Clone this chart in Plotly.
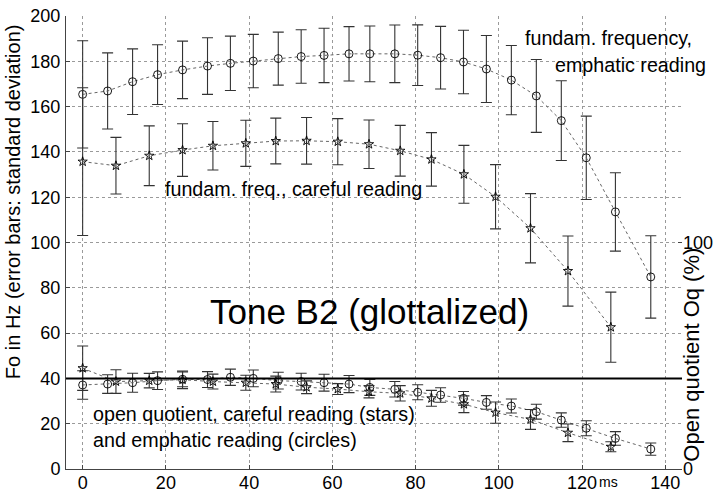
import plotly.graph_objects as go

# ---- data ----
emph_x = [0, 6, 12, 18, 24, 30, 35.5, 41, 47, 52.5, 58, 64, 69, 75, 80.5, 86, 91.5, 97, 103, 109, 115, 121, 128, 136.5]
emph_f0 = [165.4, 166.9, 171.0, 174.1, 176.2, 177.9, 179.1, 180.1, 181.2, 182.1, 182.6, 183.3, 183.3, 183.3, 182.7, 181.6, 179.7, 176.6, 171.7, 164.7, 153.8, 137.4, 113.5, 84.8]
emph_f0_sd = [23.7, 16.8, 14.5, 13.2, 12.7, 12.5, 12.0, 11.8, 11.7, 11.8, 12.0, 12.0, 12.3, 12.7, 13.4, 13.8, 14.0, 14.8, 15.3, 16.1, 17.6, 18.4, 17.3, 18.2]
emph_oq = [37.1, 37.5, 38.1, 39.0, 39.6, 39.5, 40.5, 40.0, 39.0, 38.6, 38.1, 37.5, 36.0, 35.2, 33.9, 32.7, 31.2, 29.4, 27.8, 25.3, 21.6, 18.0, 13.5, 8.8]
emph_oq_sd = [6.3, 4.1, 4.2, 3.9, 3.3, 3.5, 3.6, 3.7, 3.7, 3.7, 3.7, 3.8, 3.5, 3.4, 3.3, 3.2, 3.0, 3.0, 3.1, 3.3, 3.2, 3.3, 3.0, 2.7]

care_x = [0, 8, 16, 24, 31.3, 39.2, 46.4, 53.8, 61.3, 68.8, 76.3, 83.8, 91.6, 99.2, 107.6, 116.6, 126.9]
care_f0 = [135.7, 133.9, 138.3, 140.8, 142.7, 143.8, 144.8, 144.9, 144.5, 143.4, 140.5, 136.7, 130.1, 120.2, 106.3, 87.4, 62.6]
care_f0_sd = [32.6, 12.5, 13.2, 11.6, 10.7, 10.2, 10.1, 10.3, 10.2, 10.7, 11.2, 11.8, 12.8, 14.2, 15.3, 15.5, 15.5]
care_oq = [44.5, 38.6, 39.0, 39.4, 38.6, 38.1, 37.5, 36.1, 35.3, 34.1, 33.4, 31.2, 28.6, 24.9, 21.9, 16.0, 9.8]
care_oq_sd = [9.8, 5.2, 3.2, 3.9, 3.3, 3.3, 3.5, 2.8, 2.4, 2.7, 3.4, 3.5, 3.7, 4.7, 4.4, 3.9, 2.2]

x_ticks = [0, 20, 40, 60, 80, 100, 120, 140]
y_ticks = [0, 20, 40, 60, 80, 100, 120, 140, 160, 180, 200]
y2_ticks = [0, 100]
ref_level = 40

FONT = "Liberation Sans, Arial, sans-serif"
ERR = dict(type="data", visible=True, color="#333333", thickness=1.1, width=5.5)
LINE = dict(color="#666666", dash="dot", width=1)

fig = go.Figure()

def add(x, y, sd, symbol, size, axis):
    fig.add_trace(go.Scatter(
        x=x, y=y, yaxis=axis, mode="lines+markers",
        line=LINE,
        marker=dict(symbol=symbol, size=size, color="black", line=dict(width=0.9, color="black")),
        error_y=dict(array=sd, **ERR),
        showlegend=False, cliponaxis=False))

add(emph_x, emph_f0, emph_f0_sd, "circle-open", 8, "y")
add(care_x, care_f0, care_f0_sd, "star-open", 7, "y")
add(emph_x, emph_oq, emph_oq_sd, "circle-open", 8, "y2")
add(care_x, care_oq, care_oq_sd, "star-open", 7, "y2")

fig.add_shape(type="line", xref="paper", x0=0, x1=1, yref="y", y0=ref_level, y1=ref_level,
              line=dict(color="black", width=2))

ann_font = dict(family=FONT, size=19.7, color="black")
fig.add_annotation(x=68.9, y=69.5, text="Tone B2 (glottalized)", showarrow=False,
                   font=dict(family=FONT, size=35, color="black"), xanchor="center", yanchor="middle")
fig.add_annotation(x=105.9, y=190.5, text="fundam. frequency,", showarrow=False,
                   font=ann_font, xanchor="left", yanchor="middle")
fig.add_annotation(x=112.9, y=178.3, text="emphatic reading", showarrow=False,
                   font=ann_font, xanchor="left", yanchor="middle")
fig.add_annotation(x=19.2, y=123.5, text="fundam. freq., careful reading", showarrow=False,
                   font=ann_font, xanchor="left", yanchor="middle")
fig.add_annotation(x=2.1, y=24.5, text="open quotient, careful reading (stars)", showarrow=False,
                   font=ann_font, xanchor="left", yanchor="middle")
fig.add_annotation(x=2.1, y=13.0, text="and emphatic reading (circles)", showarrow=False,
                   font=ann_font, xanchor="left", yanchor="middle")
# unit next to the 120 tick label
fig.add_annotation(x=120, y=0, yref="y", text="ms", showarrow=False, xanchor="left", yanchor="middle",
                   xshift=15, yshift=-13, font=dict(family=FONT, size=14, color="black"))
# axis titles
fig.add_annotation(xref="paper", x=-0.087, yref="paper", y=0.59, text="Fo in Hz (error bars: standard deviation)",
                   textangle=-90, showarrow=False, font=dict(family=FONT, size=20, color="black"),
                   xanchor="center", yanchor="middle")
fig.add_annotation(xref="paper", x=1.016, yref="paper", y=0.252, text="Open quotient Oq (%)",
                   textangle=-90, showarrow=False, font=dict(family=FONT, size=22, color="black"),
                   xanchor="center", yanchor="middle")

axis_common = dict(showline=True, linecolor="#444444", linewidth=1, ticks="inside", ticklen=4,
                   tickcolor="#444444", tickfont=dict(family=FONT, size=18, color="black"), zeroline=False)

fig.update_layout(
    width=714, height=492,
    margin=dict(l=66, r=32, t=16, b=23),
    paper_bgcolor="white", plot_bgcolor="white",
    xaxis=dict(range=[-4, 144], tickvals=x_ticks, ticktext=[str(v) for v in x_ticks],
               showgrid=True, gridcolor="#9a9a9a", griddash="dot", gridwidth=1,
               automargin=False, ticklabelstandoff=-3, **axis_common),
    yaxis=dict(range=[0, 200], tickvals=y_ticks, showgrid=True, gridcolor="#9a9a9a", griddash="dot",
               gridwidth=1, automargin=False, ticklabelstandoff=1, **axis_common),
    yaxis2=dict(range=[0, 200], tickvals=y2_ticks, overlaying="y", side="right", showgrid=False,
                showline=False, ticks="inside", ticklen=4, tickcolor="#444444",
                tickfont=dict(family=FONT, size=18, color="black"), zeroline=False, automargin=False,
                ticklabelstandoff=0),
)

fig.write_html("out.html", config={"displayModeBar": False},
               post_script="document.body.style.margin='0px';")
